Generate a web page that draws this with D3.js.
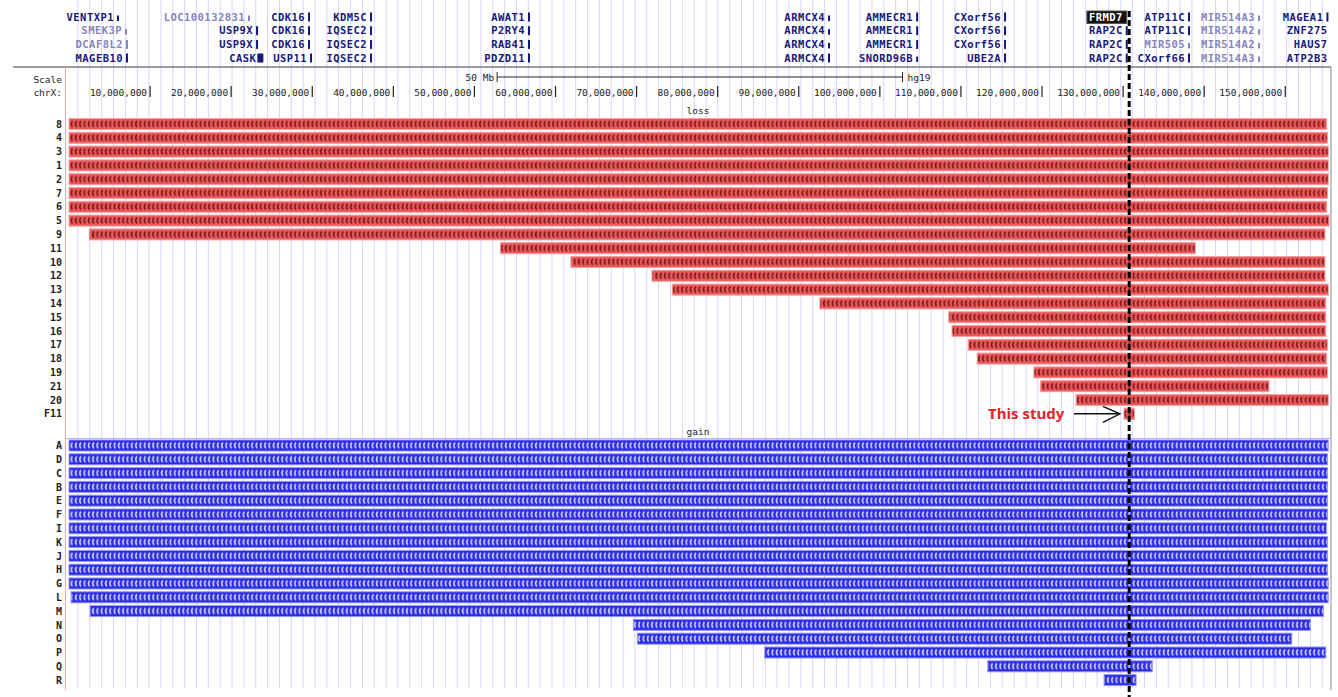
<!DOCTYPE html>
<html><head><meta charset="utf-8">
<script src="https://cdn.jsdelivr.net/npm/d3@7"></script>
<style>body{margin:0;background:#fff}svg{display:block}</style>
</head><body>
<script>
// ---------- DATA (Mb on chrX, hg19) ----------
const chrLength = 155.27;
const tickValues = [10,20,30,40,50,60,70,80,90,100,110,120,130,140,150];

const lossSamples = ["8","4","3","1","2","7","6","5","9","11","10","12","13","14","15","16","17","18","19","21","20","F11"];
const lossStart   = [0,0,0,0,0,0,0,0,2.5,53.2,61.9,71.9,74.4,92.6,108.5,108.9,110.9,112.0,119.0,119.8,124.2,130.1];
const lossEnd     = [155.1,155.2,155.3,155.3,155.3,155.2,155.1,155.4,154.9,138.9,154.9,154.9,155.3,155.0,155.0,155.0,155.2,155.1,155.2,148.0,155.3,131.4];

const gainSamples = ["A","D","C","B","E","F","I","K","J","H","G","L","M","N","O","P","Q","R"];
const gainStart   = [0,0,0,0,0,0,0,0,0,0,0,0.25,2.6,69.6,70.1,85.8,113.3,127.65];
const gainEnd     = [155.3,155.2,155.2,155.2,155.2,155.2,155.1,155.2,155.2,155.2,155.3,155.3,154.7,153.1,150.8,155.0,133.6,131.6];

const studyPos = 130.75; // FRMD7 region, "This study"
const scaleBarStart = 52.8, scaleBarLength = 50;

const geneNames = [
 "VENTXP1","LOC100132831","CDK16","KDM5C","AWAT1","ARMCX4","AMMECR1","CXorf56","FRMD7","ATP11C","MIR514A3","MAGEA1",
 "SMEK3P","USP9X","CDK16","IQSEC2","P2RY4","ARMCX4","AMMECR1","CXorf56","RAP2C","ATP11C","MIR514A2","ZNF275",
 "DCAF8L2","USP9X","CDK16","IQSEC2","RAB41","ARMCX4","AMMECR1","CXorf56","RAP2C","MIR505","MIR514A2","HAUS7",
 "MAGEB10","CASK","USP11","IQSEC2","PDZD11","ARMCX4","SNORD96B","UBE2A","RAP2C","CXorf66","MIR514A3","ATP2B3"];
const geneRow = [0,0,0,0,0,0,0,0,0,0,0,0, 1,1,1,1,1,1,1,1,1,1,1,1, 2,2,2,2,2,2,2,2,2,2,2,2, 3,3,3,3,3,3,3,3,3,3,3,3];
const genePos = [
 6.04,22.2,29.6,37.25,56.73,93.73,104.6,115.44,130.45,138.13,146.77,155.2,
 7.03,23.19,29.6,37.25,56.73,93.73,104.6,115.44,130.45,138.13,146.77,155.7,
 7.15,23.19,29.6,37.25,56.73,93.73,104.6,115.44,130.45,138.13,146.77,155.7,
 7.15,23.6,29.85,37.25,56.73,93.73,104.6,115.44,130.45,138.13,146.77,155.7];
const geneMark = [
 "thin","thin","bar","bar","bar","thin","bar","bar","box","bar","thin","bar",
 "thin","bar","bar","bar","bar","thin","bar","bar","bar","bar","thin","none",
 "bar","bar","bar","bar","bar","thin","bar","bar","bar","thin","thin","none",
 "bar","block","bar","bar","bar","bar","thin","bar","bar","bar","thin","none"];
const geneLight = [
 0,1,0,0,0,0,0,0,0,0,1,0,
 1,0,0,0,0,0,0,0,0,0,1,0,
 1,0,0,0,0,0,0,0,0,1,1,0,
 0,0,0,0,0,0,0,0,0,0,1,0];

// ---------- LAYOUT ----------
const W = 1338, H = 697;
const mono = "'DejaVu Sans Mono', monospace";
const svg = d3.select("body").append("svg").attr("width", W).attr("height", H);
const x = d3.scaleLinear().domain([0, chrLength]).range([69, 1328]);
const step = 13.8;
const yLoss = d3.scaleBand().domain(lossSamples).range([117.1, 117.1 + step*lossSamples.length]).paddingInner(0.2).paddingOuter(0.1);
const yGain = d3.scaleBand().domain(gainSamples).range([438.6, 438.6 + step*gainSamples.length]).paddingInner(0.2).paddingOuter(0.1);

// gridlines
svg.append("g").selectAll("line").data(d3.range(78, 1330, 11.85)).join("line")
  .attr("x1", d => d).attr("x2", d => d).attr("y1", 0).attr("y2", 688)
  .attr("stroke", "#d6d6f6").attr("stroke-width", 1);

// header separator & borders
svg.append("line").attr("x1", 13).attr("x2", 1331).attr("y1", 67).attr("y2", 67).attr("stroke", "#7a7a7a").attr("stroke-width", 1.6);
svg.append("line").attr("x1", 1331).attr("x2", 1331).attr("y1", 67).attr("y2", 690).attr("stroke", "#8a8a8a").attr("stroke-width", 1);
svg.append("line").attr("x1", 65.5).attr("x2", 65.5).attr("y1", 67).attr("y2", 690).attr("stroke", "#f2a6a6").attr("stroke-width", 1);
svg.append("line").attr("x1", 66).attr("x2", 1330).attr("y1", 438.5).attr("y2", 438.5).attr("stroke", "#b9b9f0").attr("stroke-width", 1);

// ---------- gene labels ----------
const rowY = [17, 30.7, 44.4, 58];
const gg = svg.append("g");
geneNames.forEach((name, i) => {
  const px = x(genePos[i]);
  const cy = rowY[geneRow[i]];
  const col = geneLight[i] ? "#8585bd" : "#17177a";
  const mk = geneMark[i];
  if (mk === "box") {
    const t = gg.append("text").attr("x", px - 4).attr("y", cy + 3.7).attr("text-anchor", "end")
      .attr("font-family", mono).attr("font-weight", "bold").attr("font-size", 10.5).attr("letter-spacing", 0.45)
      .attr("fill", "#fff").text(name);
    const bb = t.node().getBBox();
    gg.insert("rect", "text").attr("x", bb.x - 2).attr("y", cy - 6).attr("width", px - bb.x + 2).attr("height", 12.5)
      .attr("fill", "#111").attr("stroke", "#555").attr("stroke-width", 1);
    return;
  }
  gg.append("text").attr("x", px - 4).attr("y", cy + 3.7).attr("text-anchor", "end")
    .attr("font-family", mono).attr("font-weight", "bold").attr("font-size", 10.5).attr("letter-spacing", 0.45)
    .attr("fill", col).text(name);
  if (mk === "bar") gg.append("rect").attr("x", px - 1).attr("y", cy - 4.5).attr("width", 2).attr("height", 9).attr("fill", col);
  if (mk === "thin") gg.append("rect").attr("x", px - 1).attr("y", cy - 1.5).attr("width", 2).attr("height", 5.5).attr("fill", col);
  if (mk === "block") gg.append("rect").attr("x", px - 3).attr("y", cy - 4.5).attr("width", 6).attr("height", 9).attr("fill", col);
});

// ---------- scale & axis ----------
const lab = (t, yy) => svg.append("text").attr("x", 62).attr("y", yy).attr("text-anchor", "end")
  .attr("font-family", mono).attr("font-size", 9.5).attr("fill", "#222").text(t);
lab("Scale", 82.5); lab("chrX:", 95.5);

const sb0 = x(scaleBarStart), sb1 = x(scaleBarStart + scaleBarLength);
svg.append("line").attr("x1", sb0).attr("x2", sb1).attr("y1", 77).attr("y2", 77).attr("stroke", "#222");
[sb0, sb1].forEach(p => svg.append("line").attr("x1", p).attr("x2", p).attr("y1", 72).attr("y2", 82).attr("stroke", "#222"));
svg.append("text").attr("x", sb0 - 3).attr("y", 80.5).attr("text-anchor", "end").attr("font-family", mono).attr("font-size", 9.5).attr("fill", "#222").text(scaleBarLength + " Mb");
svg.append("text").attr("x", sb1 + 5).attr("y", 80.5).attr("font-family", mono).attr("font-size", 9.5).attr("fill", "#222").text("hg19");

const fmt = d3.format(",");
const tg = svg.append("g").selectAll("g").data(tickValues).join("g");
tg.append("text").attr("x", d => x(d) - 3).attr("y", 95.5).attr("text-anchor", "end")
  .attr("font-family", mono).attr("font-size", 9.5).attr("fill", "#222").text(d => fmt(d * 1e6));
tg.append("line").attr("x1", d => x(d)).attr("x2", d => x(d)).attr("y1", 86).attr("y2", 97).attr("stroke", "#222").attr("stroke-width", 1.2);

// track titles
svg.append("text").attr("x", 698).attr("y", 114).attr("text-anchor", "middle").attr("font-family", mono).attr("font-size", 9.5).attr("fill", "#222").text("loss");
svg.append("text").attr("x", 698).attr("y", 435).attr("text-anchor", "middle").attr("font-family", mono).attr("font-size", 9.5).attr("fill", "#222").text("gain");

// ---------- chevron patterns ----------
const defs = svg.append("defs");
function chevron(id, y0, bg, fg) {
  const p = defs.append("pattern").attr("id", id).attr("patternUnits", "userSpaceOnUse")
    .attr("x", 69).attr("y", y0).attr("width", 4.3).attr("height", step);
  p.append("rect").attr("width", 4.3).attr("height", step).attr("fill", bg);
  p.append("path").attr("d", "M3.4,2.6 Q1.0,5.5 3.4,8.4").attr("fill", "none").attr("stroke", fg).attr("stroke-width", 1.6);
}
chevron("chevRed", yLoss(lossSamples[0]), "#e8595b", "#7a1616");
chevron("chevBlue", yGain(gainSamples[0]), "#2b2be4", "#d2d2ff");

// ---------- bars ----------
function track(samples, starts, ends, y, fill, stroke) {
  const g = svg.append("g");
  g.selectAll("rect").data(samples).join("rect")
    .attr("x", (d, i) => x(starts[i])).attr("y", d => y(d))
    .attr("width", (d, i) => Math.max(1, x(ends[i]) - x(starts[i]))).attr("height", y.bandwidth())
    .attr("fill", fill).attr("stroke", stroke).attr("stroke-width", 1);
  g.selectAll("text").data(samples).join("text")
    .attr("x", 62).attr("y", d => y(d) + y.bandwidth() / 2 + 3.6).attr("text-anchor", "end")
    .attr("font-family", mono).attr("font-weight", "bold").attr("font-size", 10).attr("fill", "#222").text(d => d);
}
track(lossSamples, lossStart, lossEnd, yLoss, "url(#chevRed)", "#f3a2a2");
track(gainSamples, gainStart, gainEnd, yGain, "url(#chevBlue)", "#9898f2");

// ---------- annotation ----------
const sx = x(studyPos);
svg.append("line").attr("x1", sx).attr("x2", sx).attr("y1", 11).attr("y2", 697)
  .attr("stroke", "#000").attr("stroke-width", 3).attr("stroke-dasharray", "6,3");

const fy = yLoss("F11") + yLoss.bandwidth() / 2;
svg.append("text").attr("x", 988).attr("y", fy + 5.5).attr("font-family", "'Open Sans', sans-serif").attr("font-weight", "bold")
  .attr("font-size", 15).attr("fill", "#e0242a").text("This study");
const ax0 = 1074, ax1 = x(lossStart[lossSamples.indexOf("F11")]) - 4;
svg.append("line").attr("x1", ax0).attr("x2", ax1).attr("y1", fy).attr("y2", fy).attr("stroke", "#111").attr("stroke-width", 1.4);
svg.append("path").attr("d", `M${ax1 - 17},${fy - 7.5} L${ax1},${fy} L${ax1 - 17},${fy + 8.5}`)
  .attr("fill", "none").attr("stroke", "#111").attr("stroke-width", 1.4);
</script>
</body></html>
